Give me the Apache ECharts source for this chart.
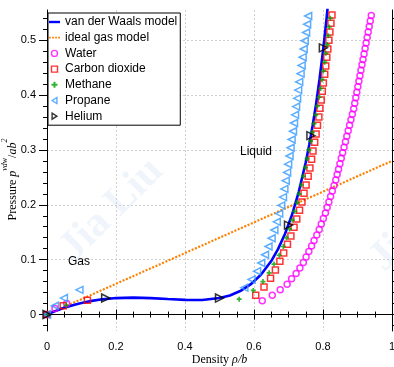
<!DOCTYPE html>
<html><head><meta charset="utf-8">
<script src="https://cdn.jsdelivr.net/npm/echarts@6/dist/echarts.min.js"></script>
<style>html,body{margin:0;padding:0;background:#fff}#c{width:394px;height:367px}</style>
</head><body><div id="c"></div>
<script>
// ---- data ----
const vdwRho = [0,0.02,0.05,0.08,0.1,0.13,0.16,0.2,0.25,0.3,0.35,0.4,0.45,0.5,0.53,0.56,0.59,0.62,0.65,0.67,0.69,0.71,0.73,0.75,0.76,0.77,0.78,0.79,0.8,0.81,0.815];
const vdwP   = [0,0.0053,0.0122,0.018,0.0211,0.0249,0.0277,0.030,0.0308,0.030,0.0283,0.0267,0.0266,0.030,0.0348,0.0428,0.0548,0.0724,0.0975,0.1196,0.1471,0.1814,0.2241,0.2775,0.3091,0.3445,0.384,0.4292,0.48,0.5376,0.5693];
const idealRho = [0, 1];
const idealP   = [0, 0.28];

const waterRho = [0,0.023,0.057,
 0.624,0.653,0.676,0.696,0.709,0.722,0.733,0.743,0.751,0.759,0.767,0.774,0.782,0.789,0.795,0.801,0.807,0.812,0.817,0.822,0.827,0.832,0.837,0.841,0.845,0.849,0.853,0.857,0.861,0.865,0.869,0.873,0.877,0.881,0.885,0.889,0.892,0.895,0.898,0.901,0.904,0.907,0.910,0.913,0.916,0.919,0.922,0.925,0.928,0.931,0.934,0.937,0.940];
const waterP = [0,0.011,0.020,
 0.025,0.035,0.045,0.055,0.065,0.075,0.085,0.095,0.105,0.115,0.125,0.135,0.145,0.155,0.165,0.175,0.185,0.195,0.205,0.215,0.225,0.235,0.245,0.255,0.265,0.275,0.285,0.295,0.305,0.315,0.325,0.335,0.345,0.355,0.365,0.375,0.385,0.395,0.405,0.415,0.425,0.435,0.445,0.455,0.465,0.475,0.485,0.495,0.505,0.515,0.525,0.535,0.545];

const co2Rho = [0,0.047,0.117,
 0.605,0.629,0.648,0.662,0.675,0.686,0.697,0.707,0.716,0.724,0.732,0.739,0.745,0.751,0.757,0.762,0.767,0.771,0.776,0.780,0.784,0.788,0.791,0.795,0.798,0.801,0.805,0.808,0.811,0.814,0.817,0.820,0.823,0.826];
const co2P = [0,0.016,0.026,
 0.035,0.050,0.066,0.081,0.097,0.112,0.128,0.143,0.159,0.174,0.190,0.205,0.221,0.236,0.252,0.267,0.283,0.298,0.314,0.329,0.345,0.360,0.376,0.391,0.407,0.422,0.438,0.453,0.469,0.484,0.500,0.515,0.531,0.546];

const ch4Rho = [0,0.056,
 0.557,0.598,0.626,0.644,0.658,0.673,0.685,0.694,0.703,0.711,0.718,0.725,0.731,0.737,0.743,0.749,0.754,0.759,0.764,0.769,0.774,0.779,0.784,0.789,0.793,0.797,0.801,0.805,0.808,0.812,0.815,0.818,0.821];
const ch4P = [0,0.017,
 0.028,0.044,0.060,0.076,0.092,0.108,0.124,0.140,0.156,0.172,0.188,0.204,0.220,0.236,0.252,0.268,0.284,0.300,0.316,0.332,0.348,0.364,0.380,0.396,0.412,0.428,0.444,0.460,0.476,0.492,0.508,0.524,0.540];

const c3h8Rho = [0,0.023,0.049,0.094,
 0.572,0.593,0.609,0.621,0.632,0.642,0.651,0.659,0.666,0.673,0.679,0.684,0.688,0.692,0.696,0.699,0.703,0.706,0.709,0.713,0.716,0.719,0.722,0.725,0.728,0.731,0.735,0.738,0.741,0.744,0.747,0.751,0.754,0.757];
const c3h8P = [0,0.016,0.030,0.045,
 0.049,0.064,0.079,0.094,0.109,0.124,0.139,0.154,0.169,0.184,0.199,0.214,0.229,0.244,0.259,0.274,0.289,0.304,0.319,0.334,0.349,0.364,0.379,0.394,0.409,0.424,0.439,0.454,0.469,0.484,0.499,0.514,0.529,0.544];

const heRho = [0,0.17,0.5,0.70,0.765,0.801];
const heP   = [0,0.030,0.030,0.163,0.326,0.486];

const xTicks = [0,0.2,0.4,0.6,0.8,1];
const yTicks = [0,0.1,0.2,0.3,0.4,0.5];
const yMinor = [-0.02,0.02,0.04,0.06,0.08,0.12,0.14,0.16,0.18,0.22,0.24,0.26,0.28,0.32,0.34,0.36,0.38,0.42,0.44,0.46,0.48,0.52,0.54];

const names = ['van der Waals model','ideal gas model','Water','Carbon dioxide','Methane','Propane','Helium'];

// ---- build ----
const pairs = (a,b) => a.map((v,i)=>[v,b[i]]);
const sans = 'Liberation Sans, Arial, sans-serif';
const serif = 'Liberation Serif, Times New Roman, serif';
const yMin = -0.03, yMax = 0.555;

function yAx(pos, custom, len, major){
  return {
    type:'value', position:pos, min:yMin, max:yMax,
    axisLine:{show:major, lineStyle:{color:'#000',width:1}},
    axisTick:{show:true, inside:false, length:len, customValues:custom, lineStyle:{color:'#000',width:1}},
    axisLabel:{show: major && pos==='left', customValues:custom, margin:11, color:'#000', fontSize:11, fontFamily:sans},
    splitLine:{show: major && pos==='left', lineStyle:{color:'#d0d0d0', type:[2,2], width:1}}
  };
}

const yAxes = [yAx('left', yTicks, 8, true), yAx('left', yMinor, 4, false), yAx('right', yTicks, 8, true), yAx('right', yMinor, 4, false)];
yAxes[0].name = '{n|Pressure }{i|p}{s|vdw}{n|/}{i|ab}{s|2}';
yAxes[0].nameLocation = 'middle';
yAxes[0].nameGap = 28;
yAxes[0].nameMoveOverlap = false;
yAxes[0].nameTextStyle = {
  color:'#000',
  padding:[0,18,0,0],
  rich:{
    n:{fontFamily:serif, fontSize:12, color:'#000', lineHeight:18, verticalAlign:'bottom'},
    i:{fontFamily:serif, fontSize:12, fontStyle:'italic', color:'#000', lineHeight:18, verticalAlign:'bottom'},
    s:{fontFamily:serif, fontSize:8, fontStyle:'italic', color:'#000', lineHeight:10, verticalAlign:'top'}
  }
};

function xAx(pos, major){
  return {
    type:'value', position:pos, min:0, max:1, interval:0.2,
    axisLine:{show:true, lineStyle:{color:'#000',width:1}},
    axisTick:{show:true, inside:false, length:5, lineStyle:{color:'#000',width:1}},
    minorTick:{show:true, splitNumber:4, length:3, lineStyle:{color:'#000',width:1}},
    axisLabel:{show:major, margin:10, color:'#000', fontSize:11, fontFamily:sans,
      formatter:v=>String(+v.toFixed(1))},
    splitLine:{show:major, lineStyle:{color:'#d0d0d0', type:[2,2], width:1}},
    minorSplitLine:{show:false}
  };
}
const xAxes = [xAx('bottom', true), xAx('top', false)];
xAxes[0].name = '{n|Density }{i|ρ/b}';
xAxes[0].nameLocation = 'middle';
xAxes[0].nameGap = 23;
xAxes[0].nameMoveOverlap = false;
xAxes[0].nameTextStyle = {rich:{
  n:{fontFamily:serif, fontSize:12, color:'#000'},
  i:{fontFamily:serif, fontSize:12, fontStyle:'italic', color:'#000'}
}};

function sc(name, rho, p, symbol, size, color, rot, filled){
  return {
    name, type:'scatter', xAxisIndex:0, yAxisIndex:0, data:pairs(rho,p),
    symbol, symbolSize:size, symbolRotate:rot||0,
    itemStyle: filled ? {color:color} : {color:'rgba(255,255,255,0)', borderColor:color, borderWidth:1.5},
    z:3
  };
}
const openItem = c => ({color:'rgba(255,255,255,0)', borderColor:c, borderWidth:1.4});
const legendData = [
  {name:names[0], icon:'path://M0,0H12V2.6H0Z', itemStyle:{color:'#0000ff', borderWidth:0}},
  {name:names[1], icon:'path://M0,0H2V2H0Z M3.5,0H5.5V2H3.5Z M7,0H9V2H7Z M10.5,0H12.5V2H10.5Z', itemStyle:{color:'#ff8000', borderWidth:0}},
  {name:names[2], icon:'circle', itemStyle:openItem('#ff00ff')},
  {name:names[3], icon:'path://M0,0H6V6H0Z', itemStyle:openItem('#ff0000')},
  {name:names[4], icon:'path://M2,0H4V2H6V4H4V6H2V4H0V2H2Z', itemStyle:{color:'#00a000', borderWidth:0}},
  {name:names[5], icon:'path://M0,5L8,0V10Z', itemStyle:openItem('#3399ff')},
  {name:names[6], icon:'path://M0,0L8,5L0,10Z', itemStyle:openItem('#000000')}
];

const option = {
  animation:false,
  backgroundColor:'#fff',
  grid:{left:47, right:2, top:10, bottom:36, containLabel:false, outerBoundsMode:'none'},
  xAxis:xAxes,
  yAxis:yAxes,
  legend:{
    orient:'vertical', left:48, top:13,
    data:legendData,
    itemWidth:11, itemHeight:6, itemGap:3.7,
    padding:[3,3,3,1],
    backgroundColor:'#fff', borderColor:'#000', borderWidth:1,
    textStyle:{fontFamily:sans, fontSize:12, color:'#000'}
  },
  graphic:[
    {type:'text', left:52, top:150, rotation:Math.PI/4, z:-10, silent:true,
     style:{text:'Jia Liu', font:'bold 42px Liberation Serif, serif', fill:'rgba(120,170,225,0.12)'}},
    {type:'text', left:362, top:160, rotation:Math.PI/4, z:-10, silent:true,
     style:{text:'Jia Liu', font:'bold 42px Liberation Serif, serif', fill:'rgba(120,170,225,0.12)'}},
    {type:'text', left:240, top:146, z:5, silent:true,
     style:{text:'Liquid', font:'12px Liberation Sans, sans-serif', fill:'#000'}},
    {type:'text', left:68, top:256, z:5, silent:true,
     style:{text:'Gas', font:'12px Liberation Sans, sans-serif', fill:'#000'}}
  ],
  series:[
    {name:names[0], type:'line', data:pairs(vdwRho,vdwP), symbol:'none', showSymbol:false,
     lineStyle:{color:'#0000ff', width:2.6}, itemStyle:{color:'#0000ff'}, z:2},
    {name:names[1], type:'line', data:pairs(idealRho,idealP), symbol:'none', showSymbol:false,
     lineStyle:{color:'#ff8000', width:2.2, type:[2,1.6]}, itemStyle:{color:'#ff8000'}, z:1},
    sc(names[2], waterRho, waterP, 'circle', 6, '#ff00ff', 0, false),
    sc(names[3], co2Rho, co2P, 'rect', 6, '#ff0000', 0, false),
    sc(names[4], ch4Rho, ch4P, 'path://M2,0H4V2H6V4H4V6H2V4H0V2H2Z', 5, '#00a000', 0, true),
    sc(names[5], c3h8Rho, c3h8P, 'triangle', 7, '#3399ff', 90, false),
    sc(names[6], heRho, heP, 'triangle', 8, '#000000', -90, false)
  ]
};
const chart = echarts.init(document.getElementById('c'), null, {renderer:'canvas'});
chart.setOption(option);
</script></body></html>
